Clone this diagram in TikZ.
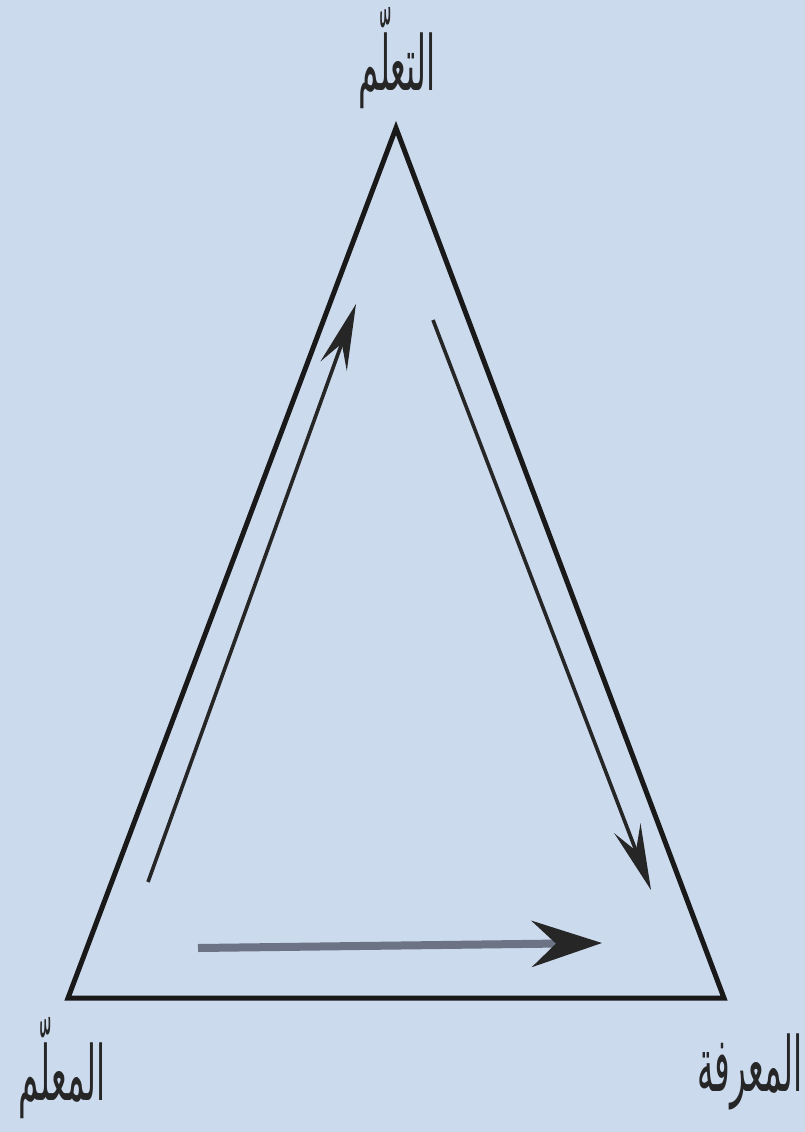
\documentclass[tikz,border=0pt]{standalone}
\usepackage{fontspec}
\newfontfamily\arabicfont[Script=Arabic]{DejaVu Sans}
\TeXXeTstate=1
\usetikzlibrary{arrows.meta}
\definecolor{bg}{HTML}{CCDAEE}
\definecolor{barcol}{HTML}{6C7385}
\newcommand{\arlbl}[1]{\scalebox{0.82}[1.9]{\arabicfont\fontsize{40}{48}\selectfont\beginR #1\endR}}
\tikzset{
  edge/.style={line width=5pt, black!90, line join=miter},
  flow/.style={line width=3.6pt, black!85, -{Stealth[length=66pt,width=28pt,inset=24pt]}},
  lbl/.style={inner sep=0pt, text=black!85}
}
\begin{document}
\begin{tikzpicture}[x=1pt,y=-1pt]
\fill[bg] (0,0) rectangle (805,1132);
\useasboundingbox (0,0) rectangle (805,1132);
\coordinate (T) at (396,128);
\coordinate (L) at (68,998);
\coordinate (R) at (724,998);
\draw[edge] (T) -- (R) -- (L) -- cycle;
\coordinate (a1) at (148,882);
\coordinate (a2) at (356,304);
\draw[flow] (a1) -- (a2);
\coordinate (b1) at (433,320);
\coordinate (b2) at (651,890);
\draw[flow] (b1) -- (b2);
\coordinate (c1) at (198,948);
\coordinate (c2) at (602,943);
\draw[line width=8pt, barcol, -{Stealth[length=70pt,width=46pt,inset=24pt,black!85]}] (c1) -- (c2);
\node[lbl] (top) at (397,58) {\arlbl{التعلّم}};
\node[lbl] (tl) at (62,1068) {\arlbl{المعلّم}};
\node[lbl] (tr) at (750,1072) {\arlbl{المعرفة}};
\end{tikzpicture}
\end{document}
